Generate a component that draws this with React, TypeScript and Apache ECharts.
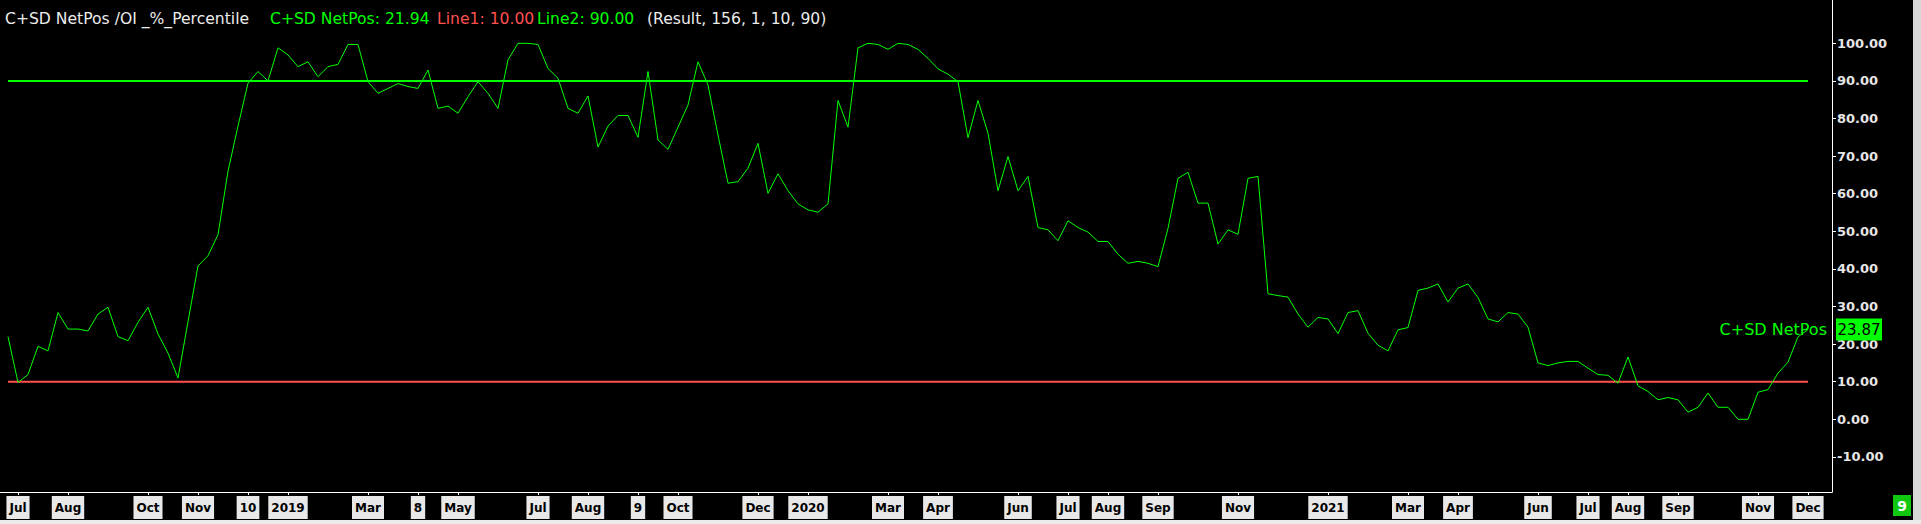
import React, { useEffect, useRef } from "react";
import * as echarts from "echarts";

// Weekly values of the C+SD NetPos /OI percentile indicator (index 0 = late Jun 2018)
const netPos: number[] = [
  22.0, 9.8, 11.9, 19.4, 18.2, 28.4, 24.0, 24.0, 23.5, 28.0,
  29.8, 22.0, 20.9, 25.8, 29.8, 22.7, 17.6, 11.0, 26.0, 40.8,
  43.5, 49.1, 66.0, 78.0, 89.4, 92.5, 90.0, 98.8, 96.9, 93.8,
  95.1, 91.1, 93.8, 94.4, 99.7, 99.7, 89.8, 86.7, 88.0, 89.3,
  88.5, 88.0, 92.9, 82.7, 83.3, 81.4, 85.8, 89.8, 86.7, 82.7,
  95.6, 100.0, 100.0, 99.7, 93.3, 90.7, 82.7, 81.4, 86.0, 72.4,
  78.0, 80.8, 80.8, 75.0, 92.5, 74.3, 71.8, 77.7, 83.6, 95.1,
  88.9, 75.6, 62.8, 63.2, 66.8, 73.4, 60.1, 65.3, 60.8, 57.3,
  55.7, 55.1, 57.3, 84.8, 77.7, 98.8, 100.0, 99.7, 98.4, 100.0,
  99.7, 98.4, 96.0, 93.2, 91.8, 89.8, 74.9, 84.8, 76.1, 60.8,
  69.9, 60.8, 64.6, 51.0, 50.4, 47.5, 52.8, 51.0, 49.8, 47.3,
  47.3, 43.9, 41.5, 42.0, 41.5, 40.6, 50.8, 64.1, 65.7, 57.5,
  57.5, 46.6, 50.4, 49.2, 64.1, 64.6, 33.4, 32.9, 32.5, 28.0,
  24.5, 27.1, 26.7, 22.8, 28.4, 28.9, 22.9, 19.7, 18.2, 23.8,
  24.4, 34.3, 34.9, 36.0, 31.2, 34.9, 36.0, 32.4, 26.7, 25.9,
  28.4, 28.0, 24.5, 15.0, 14.3, 15.0, 15.4, 15.4, 13.6, 11.9,
  11.7, 9.6, 16.6, 8.9, 7.4, 5.2, 5.8, 5.2, 1.9, 3.2,
  7.0, 3.2, 3.2, 0.0, 0.0, 7.2, 7.9, 12.3, 15.2, 21.94,
  23.87,
];

const line1Level = 10;
const line2Level = 90;

const tickIndex: number[] = [
  1, 6, 14, 19, 24, 28, 36, 41, 45, 53, 58, 63, 67, 75, 80, 88, 93,
  101, 106, 110, 115, 123, 132, 140, 145, 153, 158, 162, 167, 175, 180,
];
const tickLabel: string[] = [
  "Jul", "Aug", "Oct", "Nov", "10", "2019", "Mar", "8", "May", "Jul", "Aug", "9", "Oct", "Dec", "2020", "Mar", "Apr",
  "Jun", "Jul", "Aug", "Sep", "Nov", "2021", "Mar", "Apr", "Jun", "Jul", "Aug", "Sep", "Nov", "Dec",
];
const yTicks: number[] = [-10, 0, 10, 20, 30, 40, 50, 60, 70, 80, 90, 100];

const FONT = "DejaVu Sans";

export default function App() {
  const ref = useRef<HTMLDivElement>(null);

  useEffect(() => {
    if (!ref.current) return;
    const chart = echarts.init(ref.current, undefined, { renderer: "svg" });
    const last = netPos.length - 1;
    const labelMap = new Map<number, string>();
    tickIndex.forEach((i, k) => labelMap.set(i, tickLabel[k]));

    const legendY = 19;
    const legendFont = { fontSize: 15.6, fontFamily: FONT, verticalAlign: "middle" as const };

    chart.setOption({
      animation: false,
      backgroundColor: "#000000",
      grid: { left: 0, right: 89, top: 0, bottom: 32, containLabel: false },
      xAxis: {
        type: "value",
        min: -0.8,
        max: 182.4,
        splitLine: { show: false },
        axisLine: { show: true, onZero: false, lineStyle: { color: "#ffffff", width: 1 } },
        axisTick: {
          show: true,
          customValues: tickIndex,
          length: 3,
          lineStyle: { color: "#ffffff" },
        },
        axisLabel: {
          show: true,
          customValues: tickIndex,
          formatter: (v: number) => labelMap.get(Math.round(v)) ?? "",
          color: "#000000",
          backgroundColor: "#e8e8e8",
          padding: [6, 3, 5, 3],
          fontSize: 12,
          fontWeight: "bold",
          fontFamily: FONT,
          margin: 4,
          hideOverlap: false,
        },
      },
      yAxis: {
        type: "value",
        position: "right",
        min: -19.33,
        max: 111.52,
        splitLine: { show: false },
        axisLine: { show: true, onZero: false, lineStyle: { color: "#ffffff", width: 1 } },
        axisTick: {
          show: true,
          customValues: yTicks,
          length: 4,
          lineStyle: { color: "#ffffff" },
        },
        axisLabel: {
          show: true,
          customValues: yTicks,
          formatter: (v: number) => v.toFixed(2),
          color: "#e6e6e6",
          fontSize: 13,
          fontWeight: "bold",
          fontFamily: FONT,
          margin: 5,
        },
      },
      series: [
        {
          name: "Line1",
          type: "line",
          data: [
            [0, line1Level],
            [last, line1Level],
          ],
          symbol: "none",
          silent: true,
          lineStyle: { color: "#ff5050", width: 2 },
          z: 2,
        },
        {
          name: "Line2",
          type: "line",
          data: [
            [0, line2Level],
            [last, line2Level],
          ],
          symbol: "none",
          silent: true,
          lineStyle: { color: "#00ff00", width: 2 },
          z: 2,
        },
        {
          name: "C+SD NetPos",
          type: "line",
          data: netPos.map((v, i) => [i, v]),
          symbol: "none",
          silent: true,
          lineStyle: { color: "#00ff00", width: 1 },
          z: 3,
          markPoint: {
            silent: true,
            symbol: "rect",
            data: [
              {
                coord: [last, netPos[last]],
                symbolSize: [46, 22],
                symbolOffset: [51, 0],
                itemStyle: { color: "#00ff00" },
                label: {
                  show: true,
                  position: "inside",
                  formatter: netPos[last].toFixed(2),
                  color: "#000000",
                  fontSize: 15,
                  fontFamily: FONT,
                },
              },
              {
                coord: [last, netPos[last]],
                symbolSize: 0,
                itemStyle: { color: "transparent" },
                label: {
                  show: true,
                  position: "left",
                  distance: 0,
                  offset: [19, 0],
                  formatter: "C+SD NetPos",
                  color: "#00ff00",
                  fontSize: 16,
                  fontFamily: FONT,
                },
              },
            ],
          },
        },
      ],
      graphic: [
        { type: "text", x: 5, y: legendY, style: { text: "C+SD NetPos /OI _%_Percentile", fill: "#ececec", ...legendFont } },
        { type: "text", x: 270, y: legendY, style: { text: `C+SD NetPos: ${netPos[last - 1].toFixed(2)}`, fill: "#00ff00", ...legendFont } },
        { type: "text", x: 437, y: legendY, style: { text: `Line1: ${line1Level.toFixed(2)}`, fill: "#ff5050", ...legendFont } },
        { type: "text", x: 537, y: legendY, style: { text: `Line2: ${line2Level.toFixed(2)}`, fill: "#00ff00", ...legendFont } },
        { type: "text", x: 647, y: legendY, style: { text: "(Result, 156, 1, 10, 90)", fill: "#ececec", ...legendFont } },
        { type: "rect", shape: { x: 1913, y: 0, width: 8, height: 524 }, style: { fill: "#d8d8d8" }, silent: true },
        { type: "rect", shape: { x: 0, y: 520, width: 1921, height: 4 }, style: { fill: "#ececec" }, silent: true },
        { type: "rect", shape: { x: 1893, y: 495, width: 18, height: 21 }, style: { fill: "#10c810" }, silent: true },
        {
          type: "text",
          x: 1902,
          y: 506,
          style: { text: "9", fill: "#ffffff", fontSize: 14, fontWeight: "bold", fontFamily: FONT, align: "center", verticalAlign: "middle" },
          silent: true,
        },
      ],
    });

    return () => chart.dispose();
  }, []);

  return (
    <div
      ref={ref}
      style={{ position: "fixed", left: 0, top: 0, width: 1921, height: 524, background: "#000" }}
    />
  );
}
